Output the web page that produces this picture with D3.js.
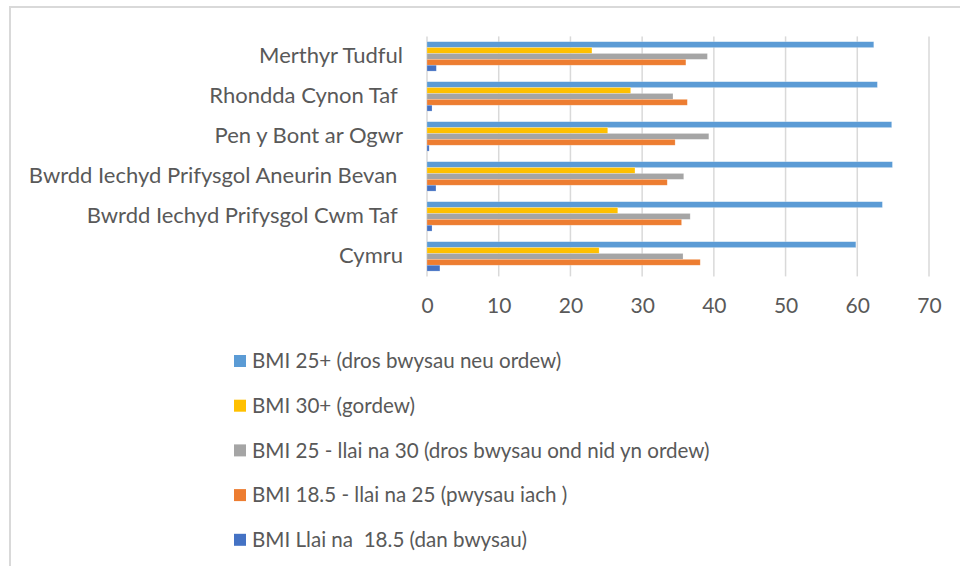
<!DOCTYPE html>
<html>
<head>
<meta charset="utf-8">
<script src="https://cdn.jsdelivr.net/npm/d3@7"></script>
<style>
  body { margin: 0; background: #fff; }
  text { font-family: Lato, "Liberation Sans", sans-serif; fill: #595959; }
</style>
</head>
<body>
<script>
// categories, top to bottom
var categories = [
  "Merthyr Tudful",
  "Rhondda Cynon Taf ",
  "Pen y Bont ar Ogwr",
  "Bwrdd Iechyd Prifysgol Aneurin Bevan ",
  "Bwrdd Iechyd Prifysgol Cwm Taf ",
  "Cymru"
];

// series names (order inside each group, top to bottom)
var seriesNames = [
  "BMI 25+ (dros bwysau neu ordew)",
  "BMI 30+ (gordew)",
  "BMI 25 - llai na 30 (dros bwysau ond nid yn ordew)",
  "BMI 18.5 - llai na 25 (pwysau iach )",
  "BMI Llai na  18.5 (dan bwysau)"
];

var seriesColors = ["#5B9BD5", "#FFC000", "#A5A5A5", "#ED7D31", "#4472C4"];

// values per series, same order as categories
var bmi25plus  = [62.3, 62.8, 64.8, 64.9, 63.5, 59.8];
var bmi30plus  = [23.0, 28.4, 25.2, 29.0, 26.6, 24.0];
var bmi25to30  = [39.1, 34.3, 39.3, 35.8, 36.7, 35.7];
var bmi185to25 = [36.1, 36.3, 34.6, 33.5, 35.5, 38.1];
var bmiUnder   = [1.3, 0.7, 0.3, 1.25, 0.7, 1.8];

var xTicks = [0, 10, 20, 30, 40, 50, 60, 70];

var seriesValues = [bmi25plus, bmi30plus, bmi25to30, bmi185to25, bmiUnder];

var width = 960, height = 566;
var svg = d3.select("body").append("svg")
    .attr("width", width)
    .attr("height", height);

// outer chart frame (only top and left visible)
svg.append("path")
    .attr("d", "M10,566 V7 H960")
    .attr("fill", "none")
    .attr("stroke", "#d9d9d9")
    .attr("stroke-width", 2);

var plot = { left: 427, right: 929, top: 36.4, bottom: 276.4 };

var x = d3.scaleLinear().domain([0, 70]).range([plot.left, plot.right]);
var y = d3.scaleBand().domain(categories).range([plot.top, plot.bottom])
    .paddingInner(0.265).paddingOuter(0.1325);
var ySub = d3.scaleBand().domain(d3.range(seriesNames.length))
    .range([0, y.bandwidth()]);

// gridlines
svg.append("g").selectAll("line")
    .data(xTicks)
    .enter().append("line")
    .attr("x1", function(d) { return x(d); })
    .attr("x2", function(d) { return x(d); })
    .attr("y1", plot.top)
    .attr("y2", plot.bottom)
    .attr("stroke", "#d9d9d9")
    .attr("stroke-width", 1.5);

// bars
var rows = [];
categories.forEach(function(c, ci) {
  seriesValues.forEach(function(vals, si) {
    rows.push({ cat: c, s: si, v: vals[ci] });
  });
});

svg.append("g").selectAll("rect")
    .data(rows)
    .enter().append("rect")
    .attr("x", x(0))
    .attr("y", function(d) { return y(d.cat) + ySub(d.s); })
    .attr("width", function(d) { return x(d.v) - x(0); })
    .attr("height", ySub.bandwidth())
    .attr("fill", function(d) { return seriesColors[d.s]; })
    .attr("stroke", "#fff")
    .attr("stroke-opacity", 0.35)
    .attr("stroke-width", 0.6);

// x axis labels
var xAxis = svg.append("g")
    .attr("transform", "translate(0," + plot.bottom + ")")
    .call(d3.axisBottom(x).tickValues(xTicks).tickSize(0).tickPadding(22));
xAxis.select(".domain").remove();
xAxis.selectAll("text")
    .style("font-size", "21px")
    .style("font-family", "Lato, 'Liberation Sans', sans-serif")
    .attr("fill", "#595959");

// category labels
var yAxis = svg.append("g")
    .attr("transform", "translate(" + (plot.left - 24) + ",0)")
    .call(d3.axisLeft(y).tickSize(0).tickPadding(0));
yAxis.select(".domain").remove();
yAxis.selectAll("text")
    .style("font-size", "22px")
    .style("font-family", "Lato, 'Liberation Sans', sans-serif")
    .style("white-space", "pre")
    .attr("fill", "#595959");

// legend
var legend = svg.append("g").selectAll("g")
    .data(seriesNames)
    .enter().append("g")
    .attr("transform", function(d, i) { return "translate(234," + (361 + i * 44.7) + ")"; });

legend.append("rect")
    .attr("x", 0)
    .attr("y", -6)
    .attr("width", 12)
    .attr("height", 12)
    .attr("fill", function(d, i) { return seriesColors[i]; });

legend.append("text")
    .attr("x", 18)
    .attr("dy", "0.35em")
    .style("font-size", "20.6px")
    .style("white-space", "pre")
    .text(function(d) { return d; });
</script>
</body>
</html>
